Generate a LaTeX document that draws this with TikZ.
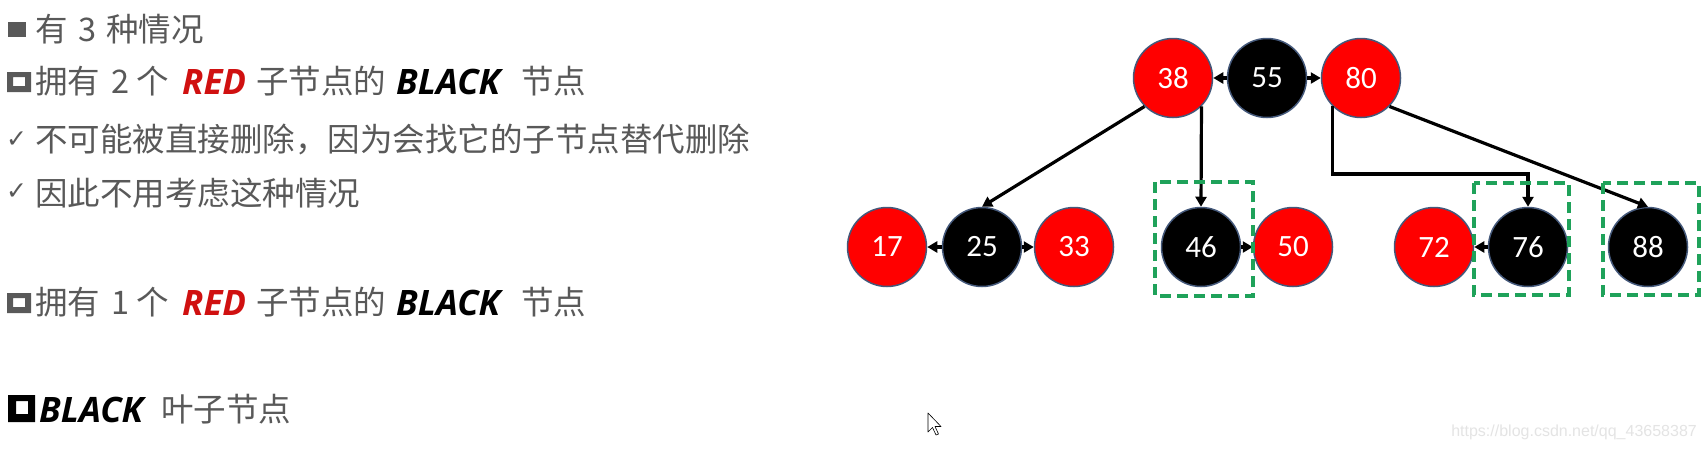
\documentclass[tikz,border=0pt]{standalone}
\usepackage{fontspec}
\usetikzlibrary{arrows.meta}
\newfontfamily\cjk{Noto Sans CJK SC}
\newfontfamily\osans{Open Sans}
\newfontfamily\carl{Carlito}
\newfontfamily\dejavu{DejaVu Sans}
\newfontfamily\libsans{Liberation Sans}
\definecolor{tgray}{HTML}{595959}
\definecolor{kred}{HTML}{D01010}
\definecolor{nred}{HTML}{FF0000}
\definecolor{bord}{HTML}{44587A}
\definecolor{ngreen}{HTML}{1FA25A}
\definecolor{wmark}{HTML}{E4E4E4}
\tikzset{
  txt/.style={anchor=base west, inner sep=0pt, text=tgray, font=\cjk\fontsize{32.5}{36}\selectfont},
  kw/.style={anchor=base west, inner sep=0pt, font=\osans\bfseries\itshape\fontsize{35}{40}\selectfont},
  chk/.style={inner sep=0pt, text=tgray, font=\dejavu\fontsize{25}{26}\selectfont},
  tnode/.style={circle, minimum size=79pt, inner sep=0pt, draw=bord, line width=1.5pt, text=white, font=\carl\fontsize{31}{33}\selectfont},
  rn/.style={tnode, fill=nred},
  bn/.style={tnode, fill=black},
  edge/.style={line width=3.2pt, -{Triangle[length=10pt,width=11pt]}},
  gbox/.style={draw=ngreen, line width=4pt, dash pattern=on 11pt off 6pt},
}
\begin{document}
\begin{tikzpicture}[x=1pt,y=-1pt]
\useasboundingbox[fill=white] (0,0) rectangle (1707,450);
% ---- left text ----
\fill[tgray] (8,22) rectangle (26,37);
\node[txt] (l1a) at (35,41) {有};
\node[txt] (l1b) at (78,41) {3};
\node[txt] (l1c) at (106,41) {种情况};
% line 2
\fill[tgray, even odd rule] (7,72) rectangle (31,92) (13,77) rectangle (25,86);
\node[txt] (l2a) at (35,93) {拥有};
\node[txt] (l2b) at (111,93) {2};
\node[txt] (l2c) at (136,93) {个};
\node[kw, text=kred] (l2d) at (182,94) {RED};
\node[txt] (l2e) at (256,93) {子节点的};
\node[kw, text=black] (l2f) at (396,94) {BLACK};
\node[txt] (l2g) at (521,93) {节点};
% line 3
\node[chk] (c3) at (16.5,139.5) {✓};
\node[txt] (l3) at (35,151) {不可能被直接删除，因为会找它的子节点替代删除};
% line 4
\node[chk] (c4) at (16.5,192) {✓};
\node[txt] (l4) at (35,205) {因此不用考虑这种情况};
% line 5
\fill[tgray, even odd rule] (7,293) rectangle (31,313) (13,298) rectangle (25,307);
\node[txt] (l5a) at (35,314) {拥有};
\node[txt] (l5b) at (111,314) {1};
\node[txt] (l5c) at (136,314) {个};
\node[kw, text=kred] (l5d) at (182,315) {RED};
\node[txt] (l5e) at (256,314) {子节点的};
\node[kw, text=black] (l5f) at (396,315) {BLACK};
\node[txt] (l5g) at (521,314) {节点};
% line 6
\fill[black, even odd rule] (8,395) rectangle (35,422) (16,401) rectangle (28,414);
\node[kw, text=black] (l6a) at (39,422) {BLACK};
\node[txt] (l6b) at (161,421) {叶子节点};
% ---- tree ----
\node[rn] (n38) at (1173,78) {38};
\node[bn] (n55) at (1267,78) {55};
\node[rn] (n80) at (1361,78) {80};
\node[rn] (n17) at (887,247) {17};
\node[bn] (n25) at (982,247) {25};
\node[rn] (n33) at (1074,247) {33};
\node[bn] (n46) at (1201,247) {46};
\node[rn] (n50) at (1293,247) {50};
\node[rn] (n72) at (1434,247) {72};
\node[bn] (n76) at (1528,247) {76};
\node[bn] (n88) at (1648,247) {88};
\coordinate (elbow) at (1528,174);
\draw[edge] (n55.west) -- (n38.east);
\draw[edge] (n55.east) -- (n80.west);
\draw[edge] (n25.west) -- (n17.east);
\draw[edge] (n25.east) -- (n33.west);
\draw[edge] (n46.east) -- (n50.west);
\draw[edge] (n76.west) -- (n72.east);
\draw[edge] (n38.south west) -- (n25.north);
\draw[edge] (n38.south east) -- (n46.north);
\draw[edge] (n80.south west) |- (elbow) -- (n76.north);
\draw[edge] (n80.south east) -- (n88.north);
% green dashed boxes
\draw[gbox] (1155,182) rectangle (1253,296);
\draw[gbox] (1474,183) rectangle (1569,295);
\draw[gbox] (1603,183) rectangle (1699,295);
% cursor
\draw[black, line width=0.6pt, fill=white, line join=round]
  (928,413) -- (928,432) -- (932.5,427.5) -- (936,435) -- (938.5,434) -- (935,426.5) -- (941,426.5) -- cycle;
% watermark
\node[anchor=base east, inner sep=0pt, text=wmark, font=\libsans\fontsize{16}{18}\selectfont] (wm) at (1697,436) {https://blog.csdn.net/qq\_43658387};
\end{tikzpicture}
\end{document}
